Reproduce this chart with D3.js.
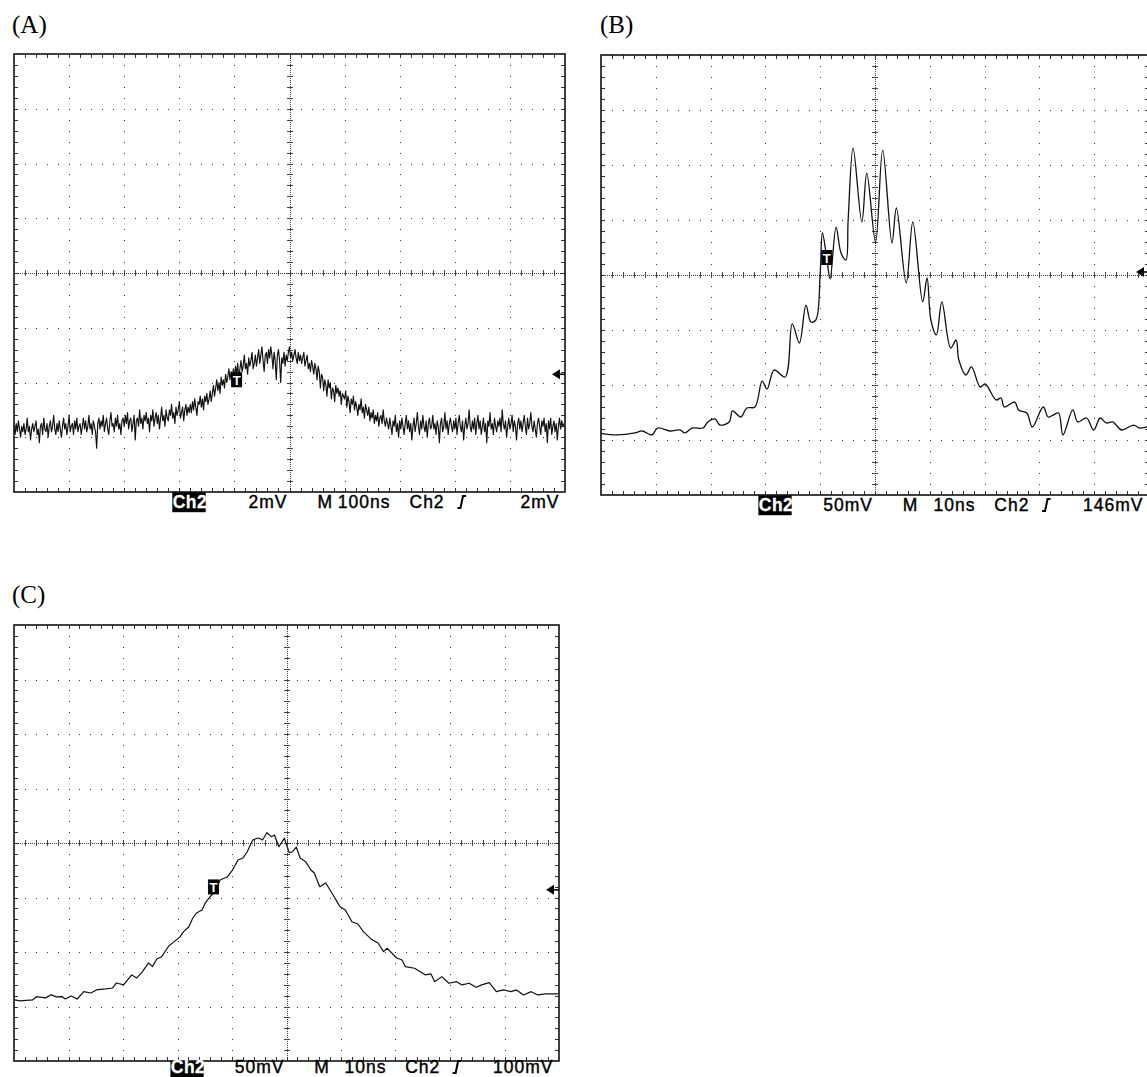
<!DOCTYPE html>
<html>
<head>
<meta charset="utf-8">
<script src="https://cdn.jsdelivr.net/npm/d3@7"></script>
<style>
  html, body { margin: 0; padding: 0; background: #fff; }
  svg { display: block; }
</style>
</head>
<body>
<script>
// ---------------------------------------------------------------
// Captured scope traces (Ch2). Voltages are in mV relative to the
// screen centre line, times in ns from the left edge of the screen.
// ---------------------------------------------------------------

// Trace A: 100 ns/div, 2 mV/div, sampled every 2 ns
const aSampleNs = 2;
const aVoltsMv = [
  -5.6,-5.9,-5.5,-5.8,-5.4,-5.7,-6.0,-5.6,-5.8,-5.5,-5.9,-5.7,-5.3,-5.8,-5.6,-6.1,-5.7,-5.5,-5.8,-5.6,
  -5.4,-5.9,-5.7,-6.2,-5.6,-5.5,-5.9,-5.3,-5.7,-5.8,-5.5,-6.0,-5.6,-5.4,-5.8,-5.6,-5.2,-5.7,-5.9,-5.5,
  -5.8,-5.4,-5.7,-6.0,-5.6,-5.3,-5.7,-5.5,-5.9,-5.6,-5.2,-5.8,-5.6,-5.5,-5.9,-5.4,-5.7,-5.3,-5.8,-5.6,
  -5.5,-5.9,-5.6,-5.3,-5.7,-5.4,-5.8,-5.6,-5.2,-5.7,-5.5,-5.9,-5.4,-5.6,-5.8,-6.4,-5.5,-5.3,-5.7,-5.4,
  -5.6,-5.2,-5.8,-5.5,-5.3,-5.7,-5.9,-5.4,-5.1,-5.6,-5.5,-5.8,-5.3,-5.6,-5.2,-5.7,-5.5,-5.9,-5.4,-5.3,
  -5.6,-5.2,-5.5,-5.1,-5.7,-5.4,-5.3,-5.8,-5.5,-5.2,-6.1,-5.4,-5.3,-5.6,-5.0,-5.5,-5.3,-5.7,-5.2,-5.4,
  -5.1,-5.5,-5.3,-5.8,-5.2,-5.4,-5.0,-5.6,-5.3,-5.1,-5.5,-5.2,-5.7,-5.3,-4.9,-5.4,-5.2,-5.6,-5.0,-5.3,
  -5.4,-5.0,-5.2,-4.8,-5.3,-5.1,-5.5,-4.9,-5.2,-5.0,-4.7,-5.3,-5.1,-4.9,-5.4,-5.0,-4.8,-5.2,-4.9,-5.1,
  -4.8,-5.1,-4.7,-5.0,-4.6,-4.9,-5.2,-4.7,-4.8,-4.5,-4.9,-4.6,-5.0,-4.5,-4.7,-4.4,-4.8,-4.6,-4.3,-4.7,
  -4.4,-4.1,-4.5,-4.2,-3.9,-4.3,-4.0,-4.4,-3.8,-4.1,-3.9,-4.2,-3.7,-4.0,-3.8,-3.5,-3.9,-3.6,-4.0,-3.5,
  -3.8,-3.4,-3.7,-3.3,-3.9,-3.5,-3.2,-3.6,-3.4,-3.0,-3.5,-3.3,-3.7,-3.1,-3.4,-3.2,-2.9,-3.5,-3.3,-3.0,
  -3.4,-3.1,-2.8,-3.3,-3.0,-2.7,-3.2,-3.6,-3.0,-2.9,-3.3,-2.8,-3.1,-2.7,-3.0,-3.5,-2.9,-3.2,-3.9,-3.0,
  -2.8,-3.2,-4.0,-3.1,-3.3,-2.9,-3.4,-3.0,-3.2,-2.9,-2.7,-3.1,-2.9,-3.2,-3.0,-2.8,-3.1,-3.3,-2.9,-3.2,
  -3.0,-3.3,-3.1,-2.9,-3.4,-3.2,-3.0,-3.5,-3.3,-3.6,-3.2,-3.4,-3.7,-3.3,-3.5,-3.9,-3.4,-3.6,-4.2,-3.7,
  -3.8,-4.3,-3.9,-4.1,-4.5,-3.9,-4.2,-4.0,-4.6,-4.2,-4.3,-4.7,-4.1,-4.4,-4.2,-4.5,-4.3,-4.8,-4.4,-4.5,
  -4.6,-4.3,-4.9,-4.5,-4.7,-5.1,-4.6,-4.8,-4.5,-5.0,-4.7,-4.9,-5.2,-4.8,-5.0,-4.6,-5.1,-4.9,-5.3,-4.8,
  -5.0,-5.2,-4.9,-5.4,-5.1,-5.3,-5.0,-5.5,-5.2,-5.4,-5.1,-5.6,-5.3,-5.2,-5.5,-5.0,-5.4,-5.6,-5.3,-5.5,
  -5.7,-5.3,-5.6,-5.9,-5.4,-5.6,-5.2,-5.8,-5.5,-6.0,-5.4,-5.7,-5.3,-5.6,-5.9,-5.5,-5.2,-5.7,-5.4,-5.8,
  -5.5,-6.1,-5.6,-5.3,-5.8,-5.5,-5.1,-5.6,-5.9,-5.4,-5.7,-5.2,-5.6,-5.8,-5.4,-6.0,-5.5,-5.3,-5.7,-5.6,
  -5.2,-5.7,-5.5,-5.9,-5.4,-5.6,-6.2,-5.5,-5.3,-5.8,-5.6,-5.1,-5.7,-5.4,-5.9,-5.5,-5.3,-5.6,-5.8,-5.4,
  -5.7,-5.3,-5.9,-5.5,-5.2,-5.6,-5.8,-5.4,-6.1,-5.6,-5.3,-5.7,-5.5,-5.0,-5.6,-5.8,-5.4,-5.7,-5.3,-5.9,
  -5.5,-5.2,-5.7,-5.4,-5.9,-5.6,-5.3,-5.8,-5.5,-6.2,-5.4,-5.6,-5.1,-5.7,-5.5,-5.9,-5.3,-5.6,-5.8,-5.4,
  -5.6,-5.3,-5.8,-5.0,-5.5,-5.7,-5.4,-6.0,-5.6,-5.3,-5.7,-5.5,-5.2,-5.8,-5.4,-5.6,-6.1,-5.5,-5.3,-5.7,
  -5.4,-5.8,-5.5,-5.2,-5.6,-5.9,-5.3,-5.7,-5.5,-5.1,-5.6,-5.8,-5.4,-5.7,-6.0,-5.5,-5.3,-5.6,-5.9,-5.4,
  -5.6,-5.3,-5.8,-5.5,-6.2,-5.4,-5.7,-5.3,-5.9,-5.6,-5.4,-5.8,-5.5,-6.1,-5.6,-5.3,-5.7,-5.4,-5.6,-5.5
];
const aTimeNs = aVoltsMv.map((_, i) => i * aSampleNs);

// Trace B: 10 ns/div, 50 mV/div
const bTimeNs = [
  0, 2.9, 6.2, 7.5, 9.3, 10.3, 12.6, 14.4, 15.3, 16.6,
  18.6, 19.5, 20.8, 21.7, 23.4, 24.0, 25.5, 26.6, 28.1, 29.4,
  30.3, 31.6, 33.6, 34.9, 36.2, 37.4, 38.3, 39.2, 40.0, 40.4,
  41.2, 41.8, 42.9, 43.8, 44.7, 45.1, 46.0, 47.6, 48.5, 50.1,
  51.4, 53.1, 53.9, 55.7, 56.9, 58.7, 59.5, 60.2, 61.2, 62.2,
  63.8, 64.8, 65.3, 66.6, 67.6, 69.2, 70.1, 72.1, 73.0, 73.6,
  75.5, 76.2, 77.7, 78.7, 80.7, 81.6, 82.5, 83.5, 84.3, 86.1,
  87.0, 88.6, 89.9, 91.1, 92.2, 93.4, 94.0, 95.0, 97.2, 98.2,
  99.5, 100
];
const bVoltsMv = [
  -144, -145.4, -143.6, -141.8, -145.4, -139.1, -141.8, -140.9, -143.6, -139.1,
  -139.1, -133.6, -130.9, -136.4, -133.6, -123.6, -129.1, -120.9, -120.0, -96.4,
  -103.6, -86.4, -92.7, -44.5, -61.8, -27.3, -42.7, -40.9, 1.8, 38.2,
  15.5, -3.6, 43.6, 20.0, 13.6, 50.0, 115.4, 48.2, 92.7, 30.0,
  113.6, 29.1, 60.9, -7.3, 48.2, -24.5, -2.7, -40.9, -54.5, -24.5,
  -66.4, -59.1, -77.3, -90.9, -83.6, -101.8, -99.1, -113.6, -111.8, -120.0,
  -115.5, -122.7, -125.5, -138.2, -120.0, -129.1, -127.3, -125.5, -145.4, -122.7,
  -133.6, -130.0, -140.9, -130.0, -134.5, -133.6, -136.4, -140.9, -136.4, -139.1,
  -138.2, -137.5
];

// Trace C: 10 ns/div, 50 mV/div
const cTimeNs = [
  0.1, 1.1, 3.4, 4.1, 5.8, 6.8, 7.8, 8.8, 9.4, 10.5,
  11.6, 12.8, 14.1, 15.1, 16.8, 18.1, 18.8, 20.1, 21.6, 22.5,
  23.4, 24.7, 25.4, 26.2, 27.1, 28.4, 29.4, 30.5, 31.1, 32.1,
  32.8, 33.5, 34.5, 35.1, 36.1, 37.1, 37.8, 39.1, 40.1, 41.1,
  42.0, 42.8, 43.8, 44.8, 45.6, 46.4, 47.2, 47.8, 48.6, 49.6,
  50.5, 51.1, 51.8, 52.5, 53.5, 54.5, 55.1, 56.1, 57.2, 58.2,
  59.8, 60.8, 62.0, 63.1, 64.1, 65.5, 66.8, 67.8, 68.5, 70.2,
  71.2, 71.8, 73.5, 75.5, 76.5, 77.2, 78.5, 79.8, 81.2, 82.2,
  83.5, 84.8, 85.8, 87.2, 88.5, 89.8, 91.2, 92.2, 93.5, 94.9,
  96.1, 97.5, 99.8
];
const cVoltsMv = [
  -144.0, -144.9, -144.0, -141.0, -142.1, -139.3, -141.2, -140.9, -143.1, -140.3,
  -143.1, -136.4, -137.6, -134.8, -133.9, -133.0, -128.4, -130.2, -121.0, -123.8,
  -119.2, -110.0, -113.4, -106.4, -104.3, -94.5, -90.5, -85.9, -81.3, -76.8,
  -68.8, -64.2, -61.4, -55.0, -48.6, -43.1, -33.9, -31.2, -24.8, -15.6,
  -13.8, -8.0, 2.8, 4.6, 2.8, 9.4, 5.8, 7.3, -3.4, 4.3,
  -8.9, -8.0, -3.7, -13.8, -17.1, -24.8, -27.5, -40.1, -36.7, -44.7,
  -58.4, -61.4, -72.2, -74.3, -81.3, -88.0, -91.7, -99.7, -96.6, -105.5,
  -107.3, -113.4, -114.9, -121.0, -120.1, -127.2, -122.6, -128.7, -127.2, -130.2,
  -128.7, -132.3, -130.2, -128.1, -136.4, -134.8, -136.4, -134.8, -139.4, -136.4,
  -139.4, -138.5, -138.5
];

// Trigger marker (time, level) and trigger-level arrow for each capture
const trigTimeNs  = [404, 41.2, 36.6];
const trigMarkMv  = [-3.9, 15.9, -40.3];
const trigLevelMv = [-3.7, 2.7, -43];

// Readout line under each screen
const chLabels      = ["Ch2", "Ch2", "Ch2"];
const scaleLabels   = ["2mV", "50mV", "50mV"];
const timeLabels    = ["100ns", "10ns", "10ns"];
const trigSrcLabels = ["Ch2", "Ch2", "Ch2"];
const trigLvlLabels = ["2mV", "146mV", "100mV"];
const panelLabels   = ["(A)", "(B)", "(C)"];

// ---------------------------------------------------------------
const W = 1147, H = 1077;
const svg = d3.select("body").append("svg")
  .attr("width", W).attr("height", H)
  .attr("viewBox", `0 0 ${W} ${H}`);

const panels = [
  { x0: 14,  y0: 54,  w: 551, h: 438, nsPerDiv: 100, mvPerDiv: 2,
    time: aTimeNs, volts: aVoltsMv, curve: d3.curveLinear, lw: 1.15,
    labelX: 12, labelY: 33, textGap: 16 },
  { x0: 601, y0: 55,  w: 548, h: 440, nsPerDiv: 10,  mvPerDiv: 50,
    time: bTimeNs, volts: bVoltsMv, curve: d3.curveCatmullRom.alpha(0.5), lw: 1.3,
    labelX: 600, labelY: 33, textGap: 16 },
  { x0: 14,  y0: 625, w: 545, h: 436, nsPerDiv: 10,  mvPerDiv: 50,
    time: cTimeNs, volts: cVoltsMv, curve: d3.curveLinear, lw: 1.2,
    labelX: 12, labelY: 603, textGap: 12 }
];

const readoutFont = "'Liberation Sans', Arial, sans-serif";

panels.forEach((p, i) => {
  const g = svg.append("g");
  const x = d3.scaleLinear().domain([0, 10 * p.nsPerDiv]).range([p.x0, p.x0 + p.w]);
  const y = d3.scaleLinear().domain([-4 * p.mvPerDiv, 4 * p.mvPerDiv]).range([p.y0 + p.h, p.y0]);

  // panel letter
  svg.append("text")
    .attr("x", p.labelX).attr("y", p.labelY)
    .attr("font-family", "'Liberation Serif', 'Times New Roman', serif")
    .attr("font-size", 25)
    .attr("fill", "#000")
    .text(panelLabels[i]);

  const minorT = d3.range(0, 51).map(k => k * p.nsPerDiv / 5);
  const minorV = d3.range(0, 41).map(k => -4 * p.mvPerDiv + k * p.mvPerDiv / 5);
  const majorT = d3.range(1, 10).filter(k => k !== 5).map(k => k * p.nsPerDiv);
  const majorV = d3.range(-3, 4).filter(k => k !== 0).map(k => k * p.mvPerDiv);

  const grid = g.append("g").attr("shape-rendering", "crispEdges");

  // dotted graticule lines (one dot per minor division)
  const dots = [];
  majorT.forEach(t => minorV.slice(1, -1).forEach(v => dots.push([x(t), y(v)])));
  majorV.forEach(v => minorT.slice(1, -1).forEach(t => dots.push([x(t), y(v)])));
  grid.selectAll("rect.dot").data(dots).join("rect")
    .attr("class", "dot")
    .attr("x", d => Math.round(d[0]) - 0.5).attr("y", d => Math.round(d[1]) - 0.5)
    .attr("width", 1.5).attr("height", 1.5)
    .attr("fill", "#333");

  // centre cross: fine dotted line with minor ticks
  const cx = x(5 * p.nsPerDiv), cy = y(0);
  grid.append("line")
    .attr("x1", p.x0).attr("x2", p.x0 + p.w).attr("y1", Math.round(cy)).attr("y2", Math.round(cy))
    .attr("stroke", "#444").attr("stroke-width", 1).attr("stroke-dasharray", "1,1");
  grid.append("line")
    .attr("y1", p.y0).attr("y2", p.y0 + p.h).attr("x1", Math.round(cx)).attr("x2", Math.round(cx))
    .attr("stroke", "#444").attr("stroke-width", 1).attr("stroke-dasharray", "1,1");
  grid.selectAll("line.ctx").data(minorT.slice(1, -1)).join("line")
    .attr("class", "ctx")
    .attr("x1", d => Math.round(x(d))).attr("x2", d => Math.round(x(d)))
    .attr("y1", Math.round(cy) - 3).attr("y2", Math.round(cy) + 3)
    .attr("stroke", "#444").attr("stroke-width", 1);
  grid.selectAll("line.cty").data(minorV.slice(1, -1)).join("line")
    .attr("class", "cty")
    .attr("y1", d => Math.round(y(d))).attr("y2", d => Math.round(y(d)))
    .attr("x1", Math.round(cx) - 3).attr("x2", Math.round(cx) + 3)
    .attr("stroke", "#444").attr("stroke-width", 1);

  // edge ticks at every minor division
  const edgeTicks = [];
  minorT.slice(1, -1).forEach(t => {
    edgeTicks.push([x(t), p.y0, x(t), p.y0 + 4]);
    edgeTicks.push([x(t), p.y0 + p.h, x(t), p.y0 + p.h - 4]);
  });
  minorV.slice(1, -1).forEach(v => {
    edgeTicks.push([p.x0, y(v), p.x0 + 4, y(v)]);
    edgeTicks.push([p.x0 + p.w, y(v), p.x0 + p.w - 4, y(v)]);
  });
  grid.selectAll("line.et").data(edgeTicks).join("line")
    .attr("class", "et")
    .attr("x1", d => Math.round(d[0])).attr("y1", d => Math.round(d[1]))
    .attr("x2", d => Math.round(d[2])).attr("y2", d => Math.round(d[3]))
    .attr("stroke", "#333").attr("stroke-width", 1);

  // screen frame
  g.append("rect")
    .attr("x", p.x0).attr("y", p.y0).attr("width", p.w).attr("height", p.h)
    .attr("fill", "none").attr("stroke", "#111").attr("stroke-width", 1.6);

  // waveform
  const clipId = "clip" + i;
  svg.append("clipPath").attr("id", clipId)
    .append("rect").attr("x", p.x0).attr("y", p.y0).attr("width", p.w).attr("height", p.h);
  const pts = p.time.map((t, k) => ({ t, v: p.volts[k] }));
  g.append("path")
    .datum(pts)
    .attr("clip-path", `url(#${clipId})`)
    .attr("fill", "none").attr("stroke", "#111")
    .attr("stroke-width", p.lw).attr("stroke-linejoin", "round")
    .attr("d", d3.line().x(d => x(d.t)).y(d => y(d.v)).curve(p.curve));

  // trigger position marker "T"
  const tx = x(trigTimeNs[i]), ty = y(trigMarkMv[i]);
  g.append("rect")
    .attr("x", tx - 5.5).attr("y", ty - 7.5).attr("width", 11).attr("height", 15)
    .attr("fill", "#000");
  g.append("text")
    .attr("x", tx).attr("y", ty + 5)
    .attr("text-anchor", "middle")
    .attr("font-family", readoutFont).attr("font-weight", "bold").attr("font-size", 13)
    .attr("fill", "#fff").text("T");

  // trigger-level arrow on the right edge
  const ay = y(trigLevelMv[i]), ax = p.x0 + p.w;
  g.append("path")
    .attr("d", `M${ax - 13},${ay} L${ax - 5},${ay - 5} L${ax - 5},${ay + 5} Z`)
    .attr("fill", "#000");
  g.append("line")
    .attr("x1", ax - 6).attr("x2", ax).attr("y1", ay).attr("y2", ay)
    .attr("stroke", "#000").attr("stroke-width", 1.6);

  // readout line
  const k = p.w / 551;
  const by = p.y0 + p.h;
  const base = by + p.textGap;
  const rt = g.append("g")
    .attr("font-family", readoutFont).attr("font-size", 17.5)
    .attr("letter-spacing", 1.0).attr("fill", "#000")
    .attr("stroke", "#000").attr("stroke-width", 0.4);

  rt.append("rect")
    .attr("x", cx - 117 * k).attr("y", by + 0.5)
    .attr("width", 33 * k).attr("height", base + 3.5 - by)
    .attr("fill", "#000");
  rt.append("text").attr("x", cx - 100 * k + 0.5).attr("y", base)
    .attr("text-anchor", "middle").attr("fill", "#fff").attr("stroke", "#fff")
    .attr("stroke-width", 0.3).attr("font-weight", "bold")
    .attr("letter-spacing", 0.5)
    .text(chLabels[i]);
  rt.append("text").attr("x", cx - 2 * k).attr("y", base)
    .attr("text-anchor", "end").text(scaleLabels[i]);
  rt.append("text").attr("x", cx + 28 * k).attr("y", base).text("M");
  rt.append("text").attr("x", cx + 101 * k).attr("y", base)
    .attr("text-anchor", "end").text(timeLabels[i]);
  rt.append("text").attr("x", cx + 120 * k).attr("y", base).text(trigSrcLabels[i]);
  // rising-edge slope symbol
  const sx = cx + 172 * k;
  rt.append("path")
    .attr("d", `M${sx - 4},${base} L${sx - 1},${base} L${sx + 1.5},${base - 12} L${sx + 4.5},${base - 12}`)
    .attr("fill", "none").attr("stroke", "#000").attr("stroke-width", 2);
  rt.append("text").attr("x", cx + 270 * k).attr("y", base)
    .attr("text-anchor", "end").text(trigLvlLabels[i]);
});
</script>
</body>
</html>
